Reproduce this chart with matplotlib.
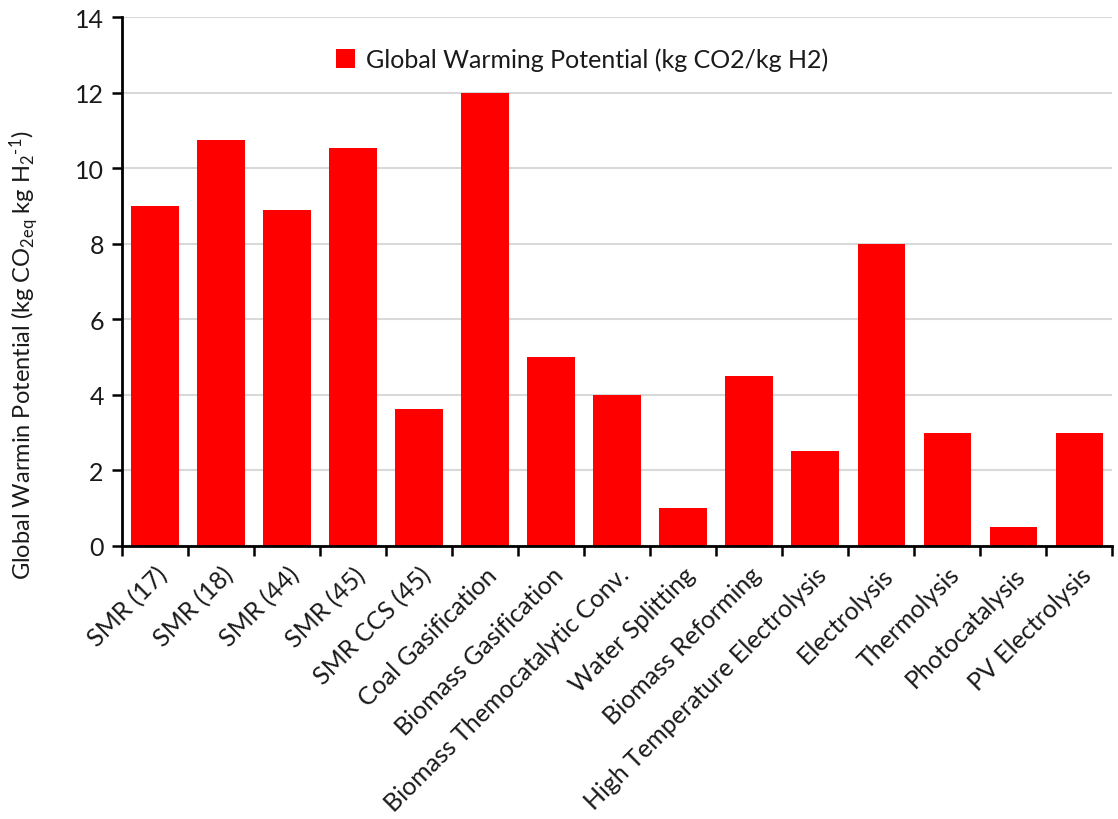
import numpy as np
import matplotlib.pyplot as plt

plt.rcParams['font.family'] = ['Lato', 'DejaVu Sans']
plt.rcParams['mathtext.fontset'] = 'custom'
plt.rcParams['mathtext.rm'] = 'Lato'
plt.rcParams['mathtext.default'] = 'regular'

# Hydrogen production routes and their GWP (kg CO2eq per kg H2)
routes = ['SMR (17)', 'SMR (18)', 'SMR (44)', 'SMR (45)', 'SMR CCS (45)',
          'Coal Gasification', 'Biomass Gasification',
          'Biomass Themocatalytic Conv.', 'Water Splitting', 'Biomass Reforming',
          'High Temperature Electrolysis', 'Electrolysis', 'Thermolysis',
          'Photocatalysis', 'PV Electrolysis']
gwp = [9.0, 10.75, 8.88, 10.53, 3.63, 12.0, 5.0, 4.0, 1.0, 4.5, 2.5, 8.0, 3.0, 0.5, 3.0]

fig, ax = plt.subplots(figsize=(11.18, 8.2), dpi=100)
fig.subplots_adjust(left=0.109, right=0.995, top=0.978, bottom=0.333)

x = np.arange(len(routes))
ax.bar(x, gwp, width=0.72, color='#ff0000',
       label='Global Warming Potential (kg CO2/kg H2)', zorder=3)

ax.set_xlim(-0.5, len(routes) - 0.5)
ax.set_ylim(0, 14)
ax.set_yticks(np.arange(0, 15, 2))
ax.yaxis.grid(True, color='#d9d9d9', linewidth=1.5, zorder=0)

# category boundary ticks on the x axis, labels centred under bars
ax.set_xticks(np.arange(-0.5, len(routes), 1.0))
ax.set_xticklabels([])
ax.set_xticks(x, minor=True)
ax.set_xticklabels(routes, minor=True, rotation=45, ha='right',
                   rotation_mode='anchor', fontsize=18, color='#1a1a1a')
ax.tick_params(axis='x', which='minor', length=0, pad=12)
ax.tick_params(axis='x', which='major', length=7, width=1.8, direction='out')
ax.tick_params(axis='y', length=7, width=1.8, direction='out', pad=6,
               labelsize=18, colors='black', labelcolor='#1a1a1a')

for s in ['top', 'right']:
    ax.spines[s].set_visible(False)
for s in ['left', 'bottom']:
    ax.spines[s].set_linewidth(2)
    ax.spines[s].set_zorder(4)

ax.set_ylabel(r'Global Warmin Potential (kg CO$_{2eq}$ kg H$_{2}$$^{\text{-}1}$)',
              fontsize=17, color='#1a1a1a')
ax.yaxis.set_label_coords(-0.082, 0.363)

ax.legend(loc='center', bbox_to_anchor=(0.465, 0.92), frameon=False,
          fontsize=18, handlelength=0.75, handleheight=0.75, handletextpad=0.45,
          labelcolor='#1a1a1a')

fig.savefig('out.png', dpi=100)
